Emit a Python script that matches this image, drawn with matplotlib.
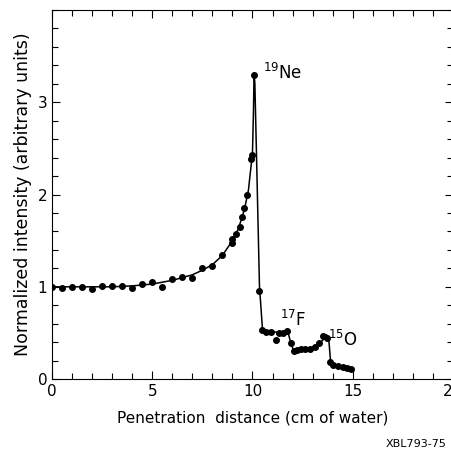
import matplotlib.pyplot as plt
from matplotlib.ticker import MultipleLocator

# ----------------------------
# Measured points (read off the figure)
# ----------------------------
depth = [0.0, 0.5, 1.0, 1.5, 2.0, 2.5, 3.0, 3.5, 4.0, 4.5, 5.0, 5.5, 6.0, 6.5, 7.0,
         7.5, 8.0, 8.5, 9.0, 9.0, 9.2, 9.4, 9.5, 9.6, 9.75, 9.95, 10.0, 10.08,
         10.35, 10.5, 10.65, 10.9, 11.15, 11.3, 11.5, 11.7, 11.9, 12.05, 12.2,
         12.4, 12.6, 12.85, 13.1, 13.3, 13.5, 13.7, 13.85, 14.0, 14.25, 14.5,
         14.7, 14.9]
intensity = [1.0, 0.99, 1.0, 1.0, 0.98, 1.01, 1.01, 1.01, 0.99, 1.03, 1.05, 1.0,
             1.09, 1.11, 1.1, 1.2, 1.23, 1.34, 1.52, 1.48, 1.57, 1.65, 1.76, 1.85,
             2.0, 2.38, 2.43, 3.3, 0.95, 0.53, 0.51, 0.51, 0.42, 0.5, 0.5, 0.52,
             0.39, 0.3, 0.32, 0.33, 0.33, 0.33, 0.35, 0.39, 0.47, 0.45, 0.19, 0.15,
             0.14, 0.13, 0.12, 0.11]

# hand-drawn curve through the points
curve_x = [0, 1, 2, 3, 4, 5, 6, 7, 7.5, 8, 8.5, 9, 9.3, 9.6, 9.8, 10.0, 10.05,
           10.08, 10.12, 10.35, 10.5, 10.7, 11.0, 11.5, 11.75, 11.9, 12.05, 12.3,
           12.8, 13.2, 13.5, 13.7, 13.8, 13.9, 14.2, 14.5, 14.9]
curve_y = [1.0, 1.0, 1.0, 1.0, 1.01, 1.03, 1.07, 1.13, 1.18, 1.24, 1.34, 1.5,
           1.63, 1.84, 2.05, 2.45, 2.9, 3.32, 3.2, 1.0, 0.54, 0.52, 0.51, 0.51,
           0.53, 0.4, 0.31, 0.33, 0.33, 0.36, 0.42, 0.48, 0.45, 0.18, 0.15, 0.13,
           0.11]

# ----------------------------
# Plot
# ----------------------------
fig = plt.figure(figsize=(4.51, 4.54), dpi=100)
ax = fig.add_axes([0.1153, 0.165, 0.889, 0.813])

ax.plot(curve_x, curve_y, color="black", linewidth=1.1)
ax.plot(depth, intensity, "o", color="black", markersize=4)

ax.set_xlim(0, 20)
ax.set_ylim(0, 4)
ax.xaxis.set_major_locator(MultipleLocator(5))
ax.xaxis.set_minor_locator(MultipleLocator(1))
ax.yaxis.set_minor_locator(MultipleLocator(0.2))
ax.set_yticks([0, 1, 2, 3])
ax.tick_params(which="both", direction="in", top=True, right=True, labelsize=11)
ax.tick_params(which="major", length=6, width=0.8)
ax.tick_params(which="minor", length=4, width=0.8)

ax.text(10.55, 3.25, r"$^{19}$Ne", fontsize=12)
ax.text(11.35, 0.57, r"$^{17}$F", fontsize=12)
ax.text(13.75, 0.36, r"$^{15}$O", fontsize=12)

ax.set_xlabel("Penetration  distance (cm of water)", fontsize=11, labelpad=8)
ax.set_ylabel("Normalized intensity (arbitrary units)", fontsize=12.5, labelpad=4)
fig.text(0.99, 0.01, "XBL793-75", ha="right", va="bottom", fontsize=8)

fig.savefig("out.png", dpi=100)
